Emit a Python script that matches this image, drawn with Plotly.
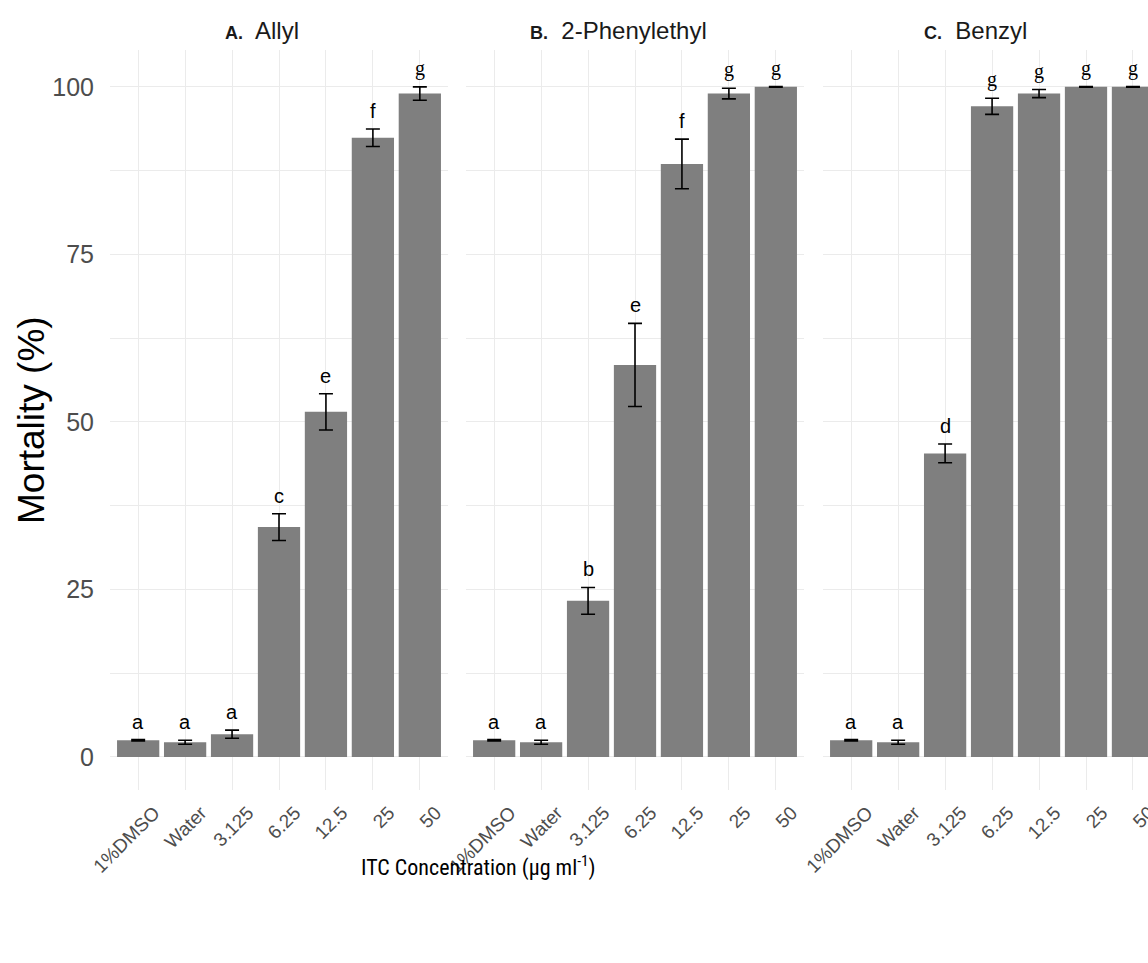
import plotly.graph_objects as go

categories = ["1%DMSO", "Water", "3.125", "6.25", "12.5", "25", "50"]

panel_titles = ["A.", "B.", "C."]
panel_names = ["Allyl", "2-Phenylethyl", "Benzyl"]

allyl_mean = [2.5, 2.2, 3.4, 34.3, 51.5, 92.4, 99.0]
allyl_se = [0.1, 0.3, 0.6, 2.0, 2.7, 1.3, 1.0]
allyl_letters = ["a", "a", "a", "c", "e", "f", "g"]

phenyl_mean = [2.5, 2.2, 23.3, 58.5, 88.5, 99.0, 100.0]
phenyl_se = [0.1, 0.3, 2.0, 6.2, 3.7, 0.8, 0.05]
phenyl_letters = ["a", "a", "b", "e", "f", "g", "g"]

benzyl_mean = [2.5, 2.2, 45.3, 97.1, 99.0, 100.0, 100.0]
benzyl_se = [0.1, 0.3, 1.4, 1.2, 0.6, 0.05, 0.05]
benzyl_letters = ["a", "a", "d", "g", "g", "g", "g"]

means = [allyl_mean, phenyl_mean, benzyl_mean]
ses = [allyl_se, phenyl_se, benzyl_se]
letters = [allyl_letters, phenyl_letters, benzyl_letters]

W, H = 1148, 963
px_domains = [(110, 448), (466, 804), (823, 1148)]
x_ranges = [[-0.6, 6.6], [-0.6, 6.6], [-0.6, 6.32]]
y_top_px, y_bot_px = 50, 790

fig = go.Figure()
grid_col = "#ebebeb"
tick_col = "#4d4d4d"

annotations = []
for i in range(3):
    xa = "x" if i == 0 else f"x{i+1}"
    fig.add_trace(go.Bar(
        x=categories, y=means[i], xaxis=xa, yaxis="y",
        width=0.9, marker=dict(color="#7f7f7f", line=dict(width=0)),
        error_y=dict(type="data", array=ses[i], visible=True,
                     color="black", thickness=1.6, width=7),
        showlegend=False, hoverinfo="skip",
    ))
    for k, (m, s, t) in enumerate(zip(means[i], ses[i], letters[i])):
        annotations.append(dict(
            x=k, y=m + s, xref=xa, yref="y",
            xanchor="center", yanchor="bottom", yshift=5, showarrow=False,
            text=t,
            font=dict(size=20, color="black",
                      family="Liberation Serif" if t == "g" else "Liberation Sans"),
        ))

layout = dict(
    width=W, height=H,
    margin=dict(l=0, r=0, t=0, b=0, autoexpand=False),
    paper_bgcolor="white", plot_bgcolor="white",
    font=dict(family="Liberation Sans, Arial, sans-serif", color=tick_col),
    yaxis=dict(
        domain=[(H - y_bot_px) / H, (H - y_top_px) / H],
        range=[-4.93, 105.5], anchor="x", automargin=False,
        tickvals=[0, 25, 50, 75, 100],
        tickfont=dict(size=25, color=tick_col),
        showgrid=True, gridcolor=grid_col, gridwidth=1.2,
        zeroline=False, showline=False, ticks="",
        ticklabelstandoff=15,
        minor=dict(tickvals=[12.5, 37.5, 62.5, 87.5], showgrid=True,
                   gridcolor=grid_col, gridwidth=0.7),
    ),
)
for i in range(3):
    key = "xaxis" if i == 0 else f"xaxis{i+1}"
    layout[key] = dict(
        domain=[px_domains[i][0] / W, px_domains[i][1] / W],
        range=x_ranges[i], anchor="y", automargin=False,
        type="category", categoryorder="array", categoryarray=categories,
        tickangle=-45, tickfont=dict(size=19, color=tick_col),
        showgrid=True, gridcolor=grid_col, gridwidth=1.2,
        zeroline=False, showline=False, ticks="",
        ticklabelstandoff=7, ticklabelshift=16,
    )
fig.update_layout(**layout)

for i in range(3):
    cx = (px_domains[i][0] + px_domains[i][1]) / 2 - 17
    if i == 2:
        cx = (823 + 1161) / 2 - 17
    annotations.append(dict(
        x=cx / W, y=(H - 30) / H, xref="paper", yref="paper",
        xanchor="center", yanchor="middle", showarrow=False,
        text=f"<b><span style='font-size:18px'>{panel_titles[i]}</span></b>  {panel_names[i]}",
        font=dict(size=24, color="#1a1a1a", family="Liberation Sans, Arial, sans-serif"),
    ))
annotations.append(dict(
    x=31 / W, y=(H - 420) / H, xref="paper", yref="paper",
    xanchor="center", yanchor="middle", showarrow=False, textangle=-90,
    text="Mortality (%)",
    font=dict(size=37, color="black", family="Liberation Sans, Arial, sans-serif"),
))
annotations.append(dict(
    x=478 / W, y=(H - 866) / H, xref="paper", yref="paper",
    xanchor="center", yanchor="middle", showarrow=False,
    text="ITC Concentration (µg ml<sup>-1</sup>)",
    font=dict(size=22, color="black",
              family="Liberation Sans Narrow, Arial Narrow, Roboto Condensed, Liberation Sans, sans-serif"),
))
fig.update_layout(annotations=annotations)

fig.write_html("out.html")
